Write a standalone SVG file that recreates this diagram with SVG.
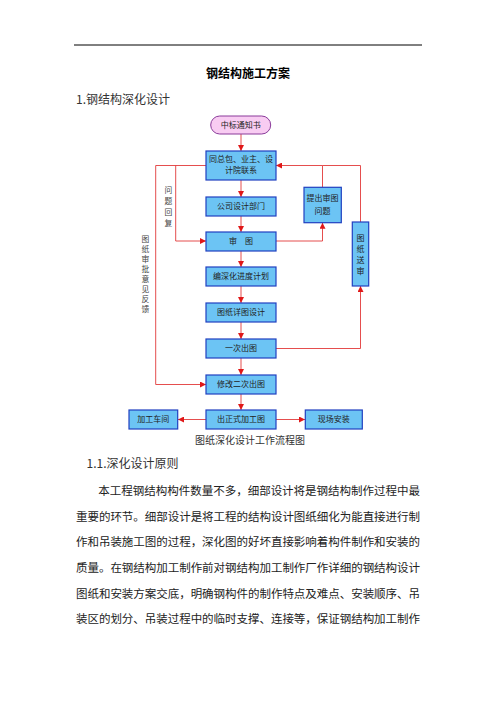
<svg xmlns="http://www.w3.org/2000/svg" width="496" height="702" viewBox="0 0 496 702">
<defs>
<style>
.box{fill:#6cc4f4;stroke:#2040c0;stroke-width:1.2;}
.pill{fill:#f8ccf2;stroke:#8a3a9a;stroke-width:1;}
.lbl{font-family:"Noto Sans CJK SC",sans-serif;font-size:8px;fill:#222;text-anchor:middle;}
.vl{font-family:"Noto Sans CJK SC",sans-serif;font-size:7.8px;fill:#444;text-anchor:middle;}
.c{fill:none;stroke:#e23a3a;stroke-width:0.9;}
</style>
<marker id="ah" viewBox="0 0 10 10" refX="10" refY="5" markerWidth="6" markerHeight="6" markerUnits="userSpaceOnUse" orient="auto">
<path d="M0,0 L10,5 L0,10 z" fill="#e01818"/>
</marker>
</defs>
<rect x="0" y="0" width="496" height="702" fill="#fff"/>
<line x1="74" y1="45" x2="422" y2="45" stroke="#000" stroke-width="1"/>
<text x="248" y="77.5" text-anchor="middle" font-family="'Noto Sans CJK SC',sans-serif" font-size="12" font-weight="bold" fill="#000">钢结构施工方案</text>
<text x="76" y="103.5" font-family="'Noto Sans CJK SC',sans-serif" font-size="12" fill="#333">1.钢结构深化设计</text>

<g id="connectors">
<path class="c" d="M241,134 V151" marker-end="url(#ah)"/>
<path class="c" d="M241,180 V197" marker-end="url(#ah)"/>
<path class="c" d="M241,216 V232" marker-end="url(#ah)"/>
<path class="c" d="M241,251 V267" marker-end="url(#ah)"/>
<path class="c" d="M241,286 V303" marker-end="url(#ah)"/>
<path class="c" d="M241,322 V339" marker-end="url(#ah)"/>
<path class="c" d="M241,358 V375" marker-end="url(#ah)"/>
<path class="c" d="M241,394 V410" marker-end="url(#ah)"/>
<path class="c" d="M206,419.5 H178" marker-end="url(#ah)"/>
<path class="c" d="M276,419.5 H305" marker-end="url(#ah)"/>
<path class="c" d="M206,165.5 H155.7 V384.5 H206" marker-end="url(#ah)"/>
<path class="c" d="M175.7,165.5 V241 H206" marker-end="url(#ah)"/>
<path class="c" d="M276,241 H322.5 V222.7" marker-end="url(#ah)"/>
<path class="c" d="M322.5,187.3 V165.5 H276" marker-end="url(#ah)"/>
<path class="c" d="M360.5,222 V165.5 H322.5"/>
<path class="c" d="M276,348.5 H360.5 V286" marker-end="url(#ah)"/>
<text class="vl"><tspan x="168.5" y="193">问</tspan><tspan x="168.5" y="204">题</tspan><tspan x="168.5" y="215">回</tspan><tspan x="168.5" y="226">复</tspan></text>
<text class="vl"><tspan x="145.5" y="242">图</tspan><tspan x="145.5" y="252">纸</tspan><tspan x="145.5" y="262">审</tspan><tspan x="145.5" y="272">批</tspan><tspan x="145.5" y="282">意</tspan><tspan x="145.5" y="292">见</tspan><tspan x="145.5" y="302">反</tspan><tspan x="145.5" y="312">馈</tspan></text>
</g>

<g id="n-start"><rect class="pill" x="210.7" y="116" width="60" height="18" rx="9"/><text class="lbl" x="240.7" y="128">中标通知书</text></g>
<g id="n-contact"><rect class="box" x="206" y="151" width="70" height="29"/><text class="lbl" x="241" y="162.3">同总包、业主、设</text><text class="lbl" x="241" y="173">计院联系</text></g>
<g id="n-dept"><rect class="box" x="206" y="197" width="70" height="19"/><text class="lbl" x="241" y="209.3">公司设计部门</text></g>
<g id="n-review"><rect class="box" x="206" y="232" width="70" height="19"/><text class="lbl" x="241" y="244.3">审　图</text></g>
<g id="n-plan"><rect class="box" x="206" y="267" width="70" height="19"/><text class="lbl" x="241" y="279.3">编深化进度计划</text></g>
<g id="n-detail"><rect class="box" x="206" y="303" width="70" height="19"/><text class="lbl" x="241" y="315.3">图纸详图设计</text></g>
<g id="n-first"><rect class="box" x="206" y="339" width="70" height="19"/><text class="lbl" x="241" y="351.3">一次出图</text></g>
<g id="n-second"><rect class="box" x="206" y="375" width="70" height="19"/><text class="lbl" x="241" y="387.3">修改二次出图</text></g>
<g id="n-final"><rect class="box" x="206" y="410" width="70" height="19"/><text class="lbl" x="241" y="422.3">出正式加工图</text></g>
<g id="n-shop"><rect class="box" x="129" y="410" width="48.7" height="19"/><text class="lbl" x="153.3" y="422.3">加工车间</text></g>
<g id="n-site"><rect class="box" x="305.3" y="410" width="57" height="19"/><text class="lbl" x="333.8" y="422.3">现场安装</text></g>
<g id="n-issue"><rect class="box" x="304" y="187.3" width="37.3" height="35.4"/><text class="lbl" x="322.6" y="201.3">提出审图</text><text class="lbl" x="322.6" y="213.7">问题</text></g>
<g id="n-submit"><rect class="box" x="352.3" y="222" width="16.4" height="64"/><text class="lbl" font-size="8.5"><tspan x="360.5" y="241.3">图</tspan><tspan x="360.5" y="252.3">纸</tspan><tspan x="360.5" y="263.3">送</tspan><tspan x="360.5" y="274.3">审</tspan></text></g>

<text x="250" y="443.5" text-anchor="middle" font-family="'Noto Sans CJK SC',sans-serif" font-size="10" fill="#333">图纸深化设计工作流程图</text>
<text x="86.5" y="467.5" font-family="'Noto Sans CJK SC',sans-serif" font-size="12" fill="#333">1.1.深化设计原则</text>
<g font-family="'Noto Sans CJK SC',sans-serif" font-size="11.5" fill="#222">
<text x="98.3" y="495" textLength="321.7" lengthAdjust="spacing">本工程钢结构构件数量不多，细部设计将是钢结构制作过程中最</text>
<text x="76" y="520.7" textLength="344" lengthAdjust="spacing">重要的环节。细部设计是将工程的结构设计图纸细化为能直接进行制</text>
<text x="76" y="546.3" textLength="344" lengthAdjust="spacing">作和吊装施工图的过程，深化图的好坏直接影响着构件制作和安装的</text>
<text x="76" y="572" textLength="344" lengthAdjust="spacing">质量。在钢结构加工制作前对钢结构加工制作厂作详细的钢结构设计</text>
<text x="76" y="597.7" textLength="344" lengthAdjust="spacing">图纸和安装方案交底，明确钢构件的制作特点及难点、安装顺序、吊</text>
<text x="76" y="623.3" textLength="344" lengthAdjust="spacing">装区的划分、吊装过程中的临时支撑、连接等，保证钢结构加工制作</text>
</g>
</svg>
